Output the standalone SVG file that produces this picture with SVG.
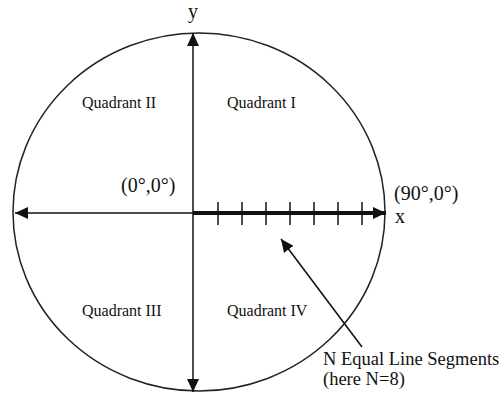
<svg xmlns="http://www.w3.org/2000/svg" width="502" height="398" viewBox="0 0 502 398">
<style>
text{font-family:"Liberation Serif","Times New Roman",serif;fill:#111}
.q{font-size:16px}
.lbl{font-size:20px}
.note{font-size:18.5px}
.ax{stroke:#111;stroke-width:1.5;fill:none}
</style>
<defs>
<marker id="ah" markerUnits="userSpaceOnUse" markerWidth="14" markerHeight="12" refX="13" refY="6" orient="auto">
<path d="M0,0 L13,6 L0,12 Z" fill="#111"/>
</marker>
</defs>
<rect width="502" height="398" fill="#fff"/>
<g id="circle">
<ellipse cx="199" cy="212" rx="186" ry="179" fill="none" stroke="#222" stroke-width="1.5"/>
</g>
<g id="connectors">
<line class="ax" x1="193" y1="60" x2="193" y2="33" marker-end="url(#ah)"/>
<line class="ax" x1="193" y1="60" x2="193" y2="392" marker-end="url(#ah)"/>
<line class="ax" x1="193" y1="213" x2="15" y2="213" marker-end="url(#ah)"/>
<line x1="193" y1="213" x2="386" y2="213" stroke="#111" stroke-width="4" marker-end="url(#ah)"/>
<g stroke="#111" stroke-width="1.5">
<line x1="218" y1="202" x2="218" y2="225"/>
<line x1="242" y1="202" x2="242" y2="225"/>
<line x1="266" y1="202" x2="266" y2="225"/>
<line x1="290" y1="202" x2="290" y2="225"/>
<line x1="314" y1="202" x2="314" y2="225"/>
<line x1="338" y1="202" x2="338" y2="225"/>
<line x1="362" y1="202" x2="362" y2="225"/>
</g>
<line class="ax" x1="362" y1="347" x2="281" y2="239" marker-end="url(#ah)"/>
</g>
<g id="labels">
<text class="lbl" x="193" y="18" text-anchor="middle">y</text>
<text class="lbl" x="395" y="223">x</text>
<text class="lbl" x="121" y="192">(0°,0°)</text>
<text class="lbl" x="394" y="200">(90°,0°)</text>
<text class="q" x="82" y="108">Quadrant II</text>
<text class="q" x="227" y="108">Quadrant I</text>
<text class="q" x="82" y="316">Quadrant III</text>
<text class="q" x="227" y="316">Quadrant IV</text>
<text class="note" x="323" y="365">N Equal Line Segments</text>
<text class="note" x="323" y="385">(here N=8)</text>
</g>
</svg>
